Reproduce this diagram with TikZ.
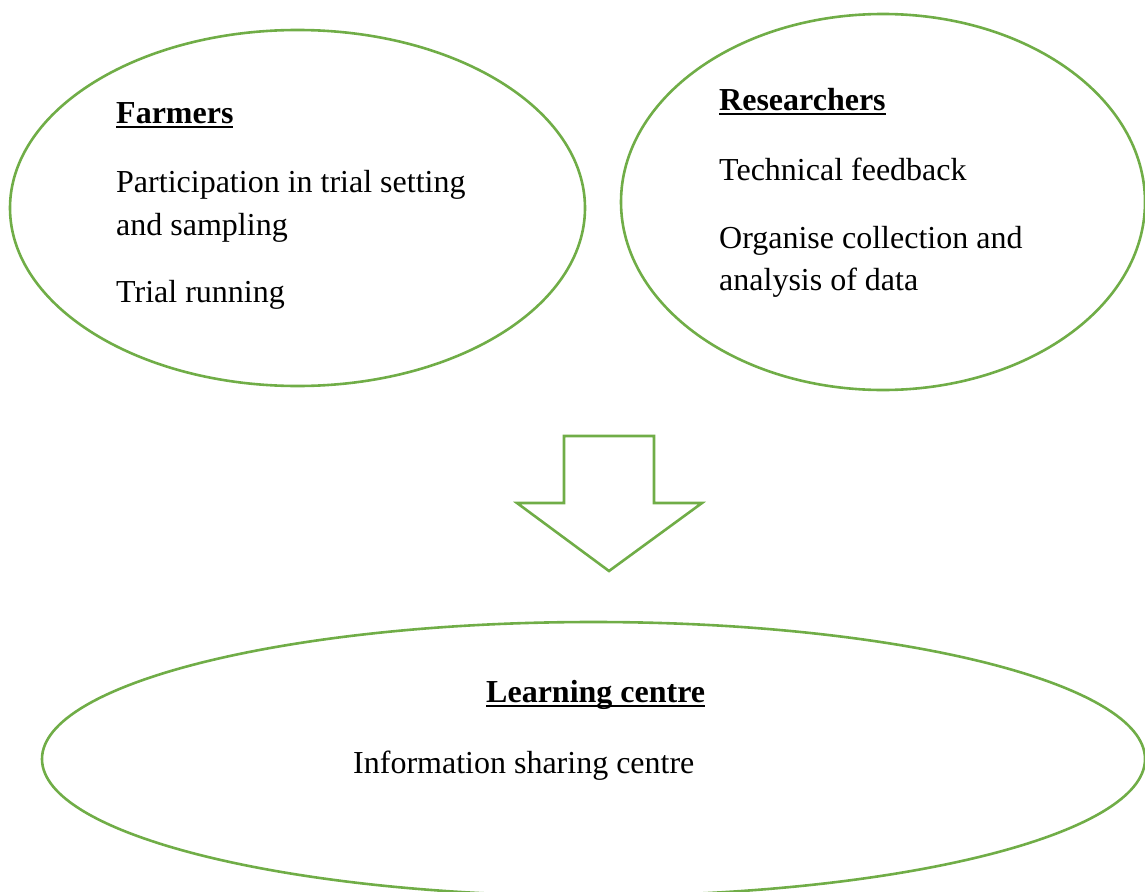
\documentclass[tikz,border=0pt]{standalone}
\usepackage{fontspec}
\setmainfont{Liberation Serif}
\usetikzlibrary{shapes.geometric}
\definecolor{leaf}{HTML}{70AD47}
\newcommand\ulbf[1]{\setbox0\hbox{\textbf{#1}}\rlap{\rule[-5pt]{\wd0}{2.4pt}}\box0}
\tikzset{
  bubble/.style={ellipse, draw=leaf, line width=2.6pt, inner sep=0pt},
  txt/.style={anchor=base west, inner sep=0pt, font=\fontsize{32}{43}\selectfont},
  flow/.style={draw=leaf, line width=2.6pt, line join=miter}
}
\begin{document}
\begin{tikzpicture}[x=1pt,y=1pt]
\useasboundingbox (0,0) rectangle (1145,-891);
\clip (0,0) rectangle (1145,-891);
% the three groups
\node[bubble, minimum width=575, minimum height=356] (farm) at (297.5,-208) {};
\node[bubble, minimum width=524, minimum height=376] (res) at (883,-202) {};
\node[bubble, minimum width=1103, minimum height=274] (learn) at (593.5,-759) {};
% farmers
\node[txt] (fh) at (116,-123) {\ulbf{Farmers}};
\node[txt] (f1) at (116,-192) {Participation in trial setting};
\node[txt] (f2) at (116,-235) {and sampling};
\node[txt] (f3) at (116,-302) {Trial running};
% researchers
\node[txt] (rh) at (719,-110) {\ulbf{Researchers}};
\node[txt] (r1) at (719,-180) {Technical feedback};
\node[txt] (r2) at (719,-248) {Organise collection and};
\node[txt] (r3) at (719,-290) {analysis of data};
% learning centre
\node[txt] (lh) at (486,-702) {\ulbf{Learning centre}};
\node[txt] (l1) at (353,-773) {Information sharing centre};
% block arrow
\draw[flow] (564,-436) -- (654,-436) -- (654,-503) -- (702,-503) -- (609,-571)
  -- (517,-503) -- (564,-503) -- cycle;
\end{tikzpicture}
\end{document}
